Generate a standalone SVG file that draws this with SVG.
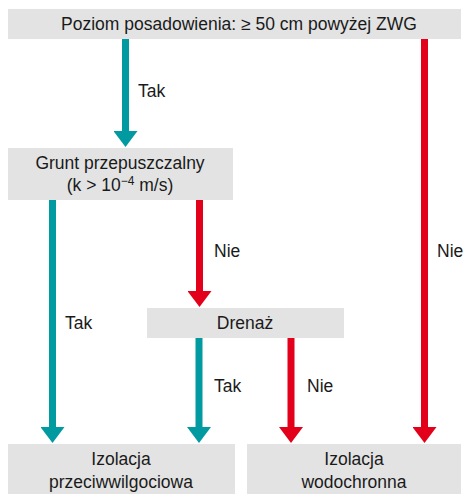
<svg xmlns="http://www.w3.org/2000/svg" width="469" height="494" viewBox="0 0 469 494">
<style>
.box{fill:#e3e3e3}
.t{font-family:"Liberation Sans",Arial,sans-serif;font-size:17.5px;fill:#1a1a1a;text-anchor:middle}
.l{font-family:"Liberation Sans",Arial,sans-serif;font-size:17.5px;fill:#1a1a1a}
.teal{stroke:#009aa0;stroke-width:7;fill:none}
.red{stroke:#e2001a;stroke-width:7;fill:none}
</style>
<defs>
<marker id="ht" viewBox="0 -12 16 24" refX="0" refY="0" markerWidth="16" markerHeight="24" markerUnits="userSpaceOnUse" orient="auto"><path d="M0,-12 L16,0 L0,12 z" fill="#009aa0"/></marker>
<marker id="hr" viewBox="0 -12 16 24" refX="0" refY="0" markerWidth="16" markerHeight="24" markerUnits="userSpaceOnUse" orient="auto"><path d="M0,-12 L16,0 L0,12 z" fill="#e2001a"/></marker>
</defs>
<g id="n1"><rect class="box" x="8" y="9" width="453" height="30"/><text class="t" x="239" y="30">Poziom posadowienia: ≥ 50 cm powyżej ZWG</text></g>
<g id="n2"><rect class="box" x="8" y="148" width="225" height="52"/><text class="t" x="120" y="169">Grunt przepuszczalny</text><text class="t" x="120" y="191">(k &gt; 10<tspan dy="-6" font-size="12">−4</tspan><tspan dy="6"> m/s)</tspan></text></g>
<g id="n3"><rect class="box" x="147" y="308" width="197" height="30"/><text class="t" x="245" y="329">Drenaż</text></g>
<g id="n4"><rect class="box" x="8" y="444" width="227" height="50"/><text class="t" x="121" y="465">Izolacja</text><text class="t" x="121" y="488">przeciwwilgociowa</text></g>
<g id="n5"><rect class="box" x="247" y="444" width="214" height="50"/><text class="t" x="354" y="465">Izolacja</text><text class="t" x="354" y="488">wodochronna</text></g>
<g id="edges">
<line class="teal" x1="125.5" y1="39" x2="125.5" y2="131" marker-end="url(#ht)"/>
<line class="red" x1="424.5" y1="39" x2="424.5" y2="427" marker-end="url(#hr)"/>
<line class="teal" x1="52.5" y1="200" x2="52.5" y2="427" marker-end="url(#ht)"/>
<line class="red" x1="199.5" y1="200" x2="199.5" y2="291" marker-end="url(#hr)"/>
<line class="teal" x1="199" y1="338" x2="199" y2="427" marker-end="url(#ht)"/>
<line class="red" x1="291" y1="338" x2="291" y2="427" marker-end="url(#hr)"/>
<text class="l" x="138" y="97">Tak</text>
<text class="l" x="437" y="257">Nie</text>
<text class="l" x="214" y="257">Nie</text>
<text class="l" x="65" y="329">Tak</text>
<text class="l" x="214" y="392">Tak</text>
<text class="l" x="307" y="392">Nie</text>
</g>
</svg>
